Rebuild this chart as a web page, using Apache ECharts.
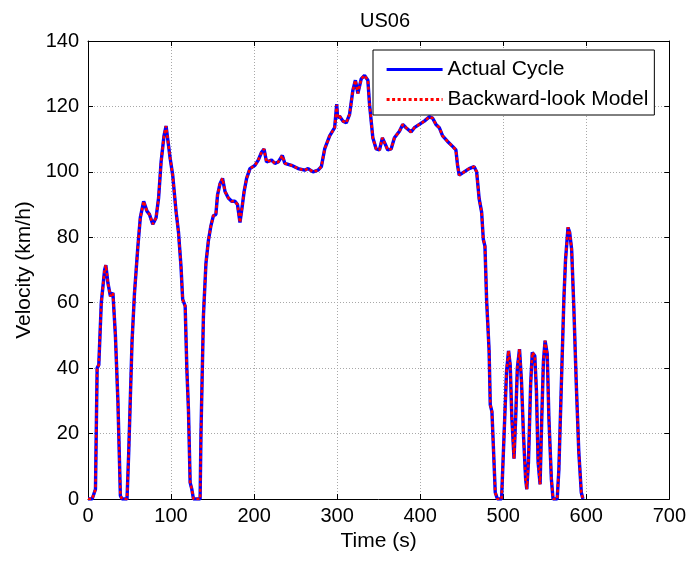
<!DOCTYPE html>
<html>
<head>
<meta charset="utf-8">
<title>US06</title>
<script src="https://cdn.jsdelivr.net/npm/echarts@6/dist/echarts.min.js"></script>
<style>
  html, body { margin: 0; padding: 0; background: #fff; }
  #chart { width: 689px; height: 561px; }
</style>
</head>
<body>
<div id="chart"></div>
<script>
// US06 drive cycle: time (s) and velocity (km/h)
const timeS = [
  0, 5, 9, 11, 13, 16, 20, 21.5, 24, 27, 30, 33, 36, 39, 41, 47, 49, 53, 56, 60,
  63, 67, 71, 74, 78, 82, 85, 88, 91.5, 94, 96, 99, 102, 106, 109, 112, 114, 117, 119, 121,
  123, 125, 127, 135, 136, 139, 142, 145, 148, 151, 154, 156, 159, 162, 165, 169, 173, 177, 180, 183,
  186, 188, 191, 195, 201, 205, 209, 212, 215, 221, 225, 229, 234, 237, 245, 253, 261, 265, 271, 277,
  281, 285, 291, 297, 299.5, 300.5, 303, 307, 311, 315, 319, 322, 325, 329, 333, 337, 339, 343, 347, 351,
  354.5, 357, 361, 365, 369, 375, 379, 383, 389, 393, 399, 405, 411, 415, 419, 423, 427, 433, 439, 443,
  445, 447, 453, 459, 465, 468, 471, 474, 476, 478, 480, 483, 484.4, 486.4, 488.4, 490.4, 493, 498, 501, 504,
  506.4, 508.4, 510.4, 513, 515, 517, 519.6, 522, 524.4, 527, 528.4, 530.4, 533, 535, 538, 540, 542, 544.4, 546.4, 548.4,
  550.4, 553, 555, 558, 560, 565, 567, 570, 573, 575, 578, 580, 582.4, 585, 588, 591, 594, 596
];

const actualCycle = [
  0, 0, 3, 40, 41, 60, 70, 71.5, 66, 62, 63, 50, 30, 1, 0, 0, 14, 48, 63, 77,
  86, 91, 88, 87, 84, 86, 92, 103, 111, 114, 113.5, 104, 99, 88, 81.5, 71, 61, 59, 40, 27,
  5, 3, 0, 0, 19.5, 56, 72, 79, 83.5, 86.6, 87, 93, 96.4, 98, 94, 92, 91, 91, 90, 84.5,
  90, 94, 98, 101, 102, 103.6, 106, 107, 103, 103.6, 102.6, 103, 105, 102.6, 102, 101, 100.5, 101, 100, 100.5,
  101.6, 107, 111, 113.5, 120.7, 116.6, 117, 115.5, 115, 117.6, 125, 128, 124, 128.4, 129.5, 128, 120.7, 110.4, 107, 106.7,
  110.4, 109, 106.7, 107, 110.4, 112.4, 114.5, 113.5, 112.2, 113.5, 114.5, 115.5, 116.8, 116.4, 114.5, 113.5, 111, 109.3, 107.8, 106.7,
  102, 99, 100, 101, 101.6, 100, 91.8, 87.7, 79.4, 77.3, 60.8, 45.3, 28.8, 26.7, 14.4, 2, 0, 0, 19.5, 39,
  45.3, 41, 24.7, 12.3, 24.7, 40, 45.8, 36, 19.5, 6, 3, 11.3, 35, 44.8, 43.8, 33, 11.3, 4.5, 24.7, 42,
  48.4, 44.3, 24.7, 6, 0, 0, 9, 35, 60.8, 73, 83, 81.5, 76.3, 58.7, 35, 14.4, 2, 0
];

const backwardModel = [
  0, 0, 3, 40, 41, 60, 70, 71.5, 66, 62, 63, 50, 30, 1, 0, 0, 14, 48, 63, 77,
  86, 91, 88, 87, 84, 86, 92, 103, 111, 114, 113.5, 104, 99, 88, 81.5, 71, 61, 59, 40, 27,
  5, 3, 0, 0, 19.5, 56, 72, 79, 83.5, 86.6, 87, 93, 96.4, 98, 94, 92, 91, 91, 90, 84.5,
  90, 94, 98, 101, 102, 103.6, 106, 107, 103, 103.6, 102.6, 103, 105, 102.6, 102, 101, 100.5, 101, 100, 100.5,
  101.6, 107, 111, 113.5, 120.5, 116.6, 117, 115.5, 115, 117.6, 125, 128, 124, 128.4, 129.5, 128, 120.7, 110.4, 107, 106.7,
  110.4, 109, 106.7, 107, 110.4, 112.4, 114.5, 113.5, 112.2, 113.5, 114.5, 115.5, 116.8, 116.4, 114.5, 113.5, 111, 109.3, 107.8, 106.7,
  102, 99, 100, 101, 101.6, 100, 91.8, 87.7, 79.4, 77.3, 60.8, 45.3, 28.8, 26.7, 14.4, 2, 0, 0, 19.5, 39,
  45.3, 41, 24.7, 12.3, 24.7, 40, 45.8, 36, 19.5, 6, 3, 11.3, 35, 44.8, 43.8, 33, 11.3, 4.5, 24.7, 42,
  48.4, 44.3, 24.7, 6, 0, 0, 9, 35, 60.8, 73, 83, 81.5, 76.3, 58.7, 35, 14.4, 2, 0
];

const seriesNames = ['Actual Cycle', 'Backward-look Model'];
const chartTitle = 'US06';
const xName = 'Time (s)';
const yName = 'Velocity (km/h)';

const FONT = '"Liberation Sans", Arial, sans-serif';

const pairs = (ys) => timeS.map((t, i) => [t, ys[i]]);

const gridLine = { show: true, lineStyle: { color: '#a8a8a8', width: 1, type: [1, 2] } };
const tickIn = { show: true, inside: true, length: 5, lineStyle: { color: '#000', width: 1 } };
const axisLine = { show: true, onZero: false, lineStyle: { color: '#000', width: 1 } };

const chart = echarts.init(document.getElementById('chart'), null, { renderer: 'canvas' });

chart.setOption({
  animation: false,
  backgroundColor: '#fff',
  textStyle: { fontFamily: FONT, color: '#000' },
  title: {
    text: chartTitle,
    left: 380,
    top: 6,
    textAlign: 'center',
    textStyle: { fontFamily: FONT, fontSize: 20, fontWeight: 'normal', color: '#000' }
  },
  grid: { left: 88, right: 17, top: 41, bottom: 62, containLabel: false },
  legend: {
    orient: 'vertical',
    left: 373,
    top: 50,
    padding: [9, 6, 5, 12],
    itemWidth: 56,
    itemHeight: 20,
    itemGap: 9,
    borderColor: '#000',
    borderWidth: 1,
    backgroundColor: '#fff',
    data: seriesNames,
    // line samples only, no marker in the middle
    itemStyle: { opacity: 0 },
    lineStyle: { width: 3.2 },
    textStyle: { fontFamily: FONT, fontSize: 21, color: '#000' }
  },
  xAxis: [
    {
      type: 'value', min: 0, max: 700, interval: 100,
      name: xName, nameLocation: 'middle', nameGap: 30,
      nameTextStyle: { fontFamily: FONT, fontSize: 21, color: '#000' },
      axisLine: axisLine, axisTick: tickIn, splitLine: gridLine,
      axisLabel: { fontFamily: FONT, fontSize: 20, color: '#000', margin: 7 }
    },
    {
      type: 'value', min: 0, max: 700, interval: 100, position: 'top',
      axisLine: axisLine, axisTick: tickIn, splitLine: { show: false }, axisLabel: { show: false }
    }
  ],
  yAxis: [
    {
      type: 'value', min: 0, max: 140, interval: 20,
      name: yName, nameLocation: 'middle', nameGap: 52, nameRotate: 90,
      nameTextStyle: { fontFamily: FONT, fontSize: 21, color: '#000' },
      axisLine: axisLine, axisTick: tickIn, splitLine: gridLine,
      axisLabel: { fontFamily: FONT, fontSize: 20, color: '#000', margin: 9 }
    },
    {
      type: 'value', min: 0, max: 140, interval: 20, position: 'right',
      axisLine: axisLine, axisTick: tickIn, splitLine: { show: false }, axisLabel: { show: false }
    }
  ],
  series: [
    {
      name: seriesNames[0], type: 'line', data: pairs(actualCycle),
      showSymbol: false, symbol: 'none',
      lineStyle: { color: '#0000ff', width: 3.4, type: 'solid' },
      itemStyle: { color: '#0000ff' }, z: 2
    },
    {
      name: seriesNames[1], type: 'line', data: pairs(backwardModel),
      showSymbol: false, symbol: 'none',
      lineStyle: { color: '#ff0000', width: 2.6, type: [3, 2.5] },
      itemStyle: { color: '#ff0000' }, z: 3
    }
  ]
});
</script>
</body>
</html>
